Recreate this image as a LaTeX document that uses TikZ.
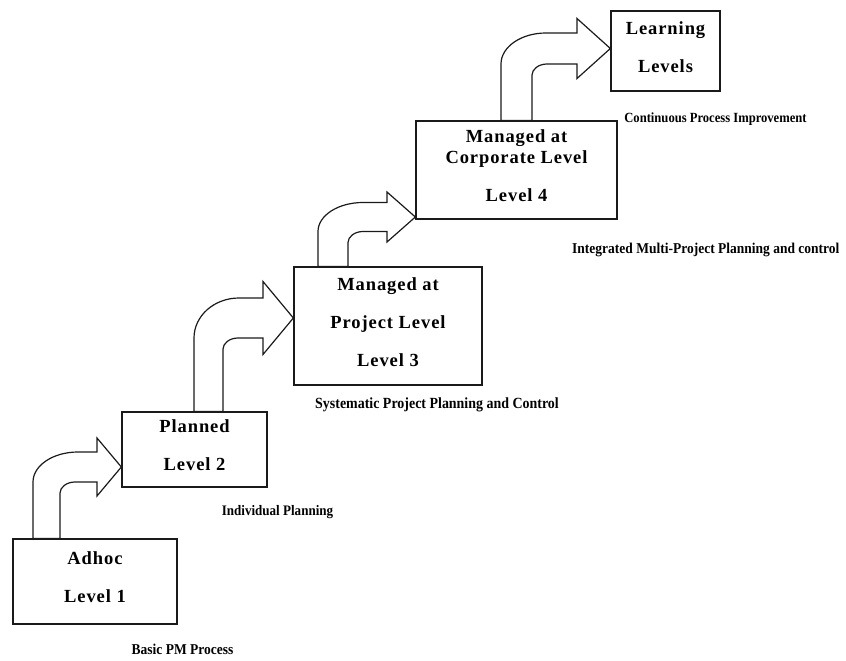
\documentclass[tikz,border=0pt]{standalone}
\usepackage{fontspec}
\setmainfont{Liberation Serif}
\newfontfamily\boxfont{Liberation Serif}[LetterSpace=5]
\newfontfamily\notefont{Liberation Serif}[FakeStretch=0.9]
\usetikzlibrary{calc}
\definecolor{ink}{HTML}{1A1A1A}

% bent block arrow: from, to, x outer, x inner, y mid, half shaft, half head, x head
\newcommand{\stepup}[8]{%
  \draw[blk] let \p1=(#1.north), \p2=(#2.west) in
    (#3,\y1) -- (#3,{#5+#6})
    .. controls (#3,{#5-0.1*#6}) and ({#3+20},{#5-#6}) .. ({#3+45},{#5-#6})
    -- (#8,{#5-#6}) -- (#8,{#5-#7}) -- (\x2,#5) -- (#8,{#5+#7}) -- (#8,{#5+#6})
    -- ({#4+15},{#5+#6}) .. controls ({#4+7},{#5+#6}) and (#4,{#5+#6+5}) .. (#4,{#5+#6+11})
    -- (#4,\y1) -- cycle;}

\begin{document}
\begin{tikzpicture}[
  x=1pt, y=-1pt,
  lvl/.style={draw=ink, line width=1.3pt, fill=white, align=center, inner sep=0pt,
              font=\boxfont\bfseries\fontsize{18.5}{38}\selectfont, text depth=8pt},
  note/.style={font=\notefont\bfseries\fontsize{#1}{16}\selectfont, inner sep=0pt},
  note/.default=14.5,
  blk/.style={draw=ink, line width=1.2pt, line join=miter}
]
\clip (0,0) rectangle (846,661);

\node[lvl, minimum width=164pt, minimum height=85pt]  (lv1) at (95,581.5)   {Adhoc\\Level 1};
\node[lvl, minimum width=145pt, minimum height=75pt]  (lv2) at (194.5,449.5) {Planned\\Level 2};
\node[lvl, minimum width=188pt, minimum height=118pt] (lv3) at (388,326)    {Managed at\\Project Level\\Level 3};
\node[lvl, minimum width=201pt, minimum height=98pt]  (lv4) at (516.5,170)  {Managed at\\[-17pt]Corporate Level\\Level 4};
\node[lvl, minimum width=109pt, minimum height=80pt]  (lv5) at (665.5,51)   {Learning\\Levels};

\stepup{lv1}{lv2}{33}{60}{467}{15}{29}{97}
\stepup{lv2}{lv3}{194}{223}{318}{20}{36.5}{263}
\stepup{lv3}{lv4}{318}{348}{217}{14.5}{25}{387}
\stepup{lv4}{lv5}{501}{532}{48.5}{15.5}{30}{577}

\node[note=15]   (n1) at (182.5,649) {Basic PM Process};
\node[note]      (n2) at (277.5,512) {Individual Planning};
\node[note=15.5] (n3) at (437,405)   {Systematic Project Planning and Control};
\node[note=15, anchor=west] (n4) at (572,250) {Integrated Multi-Project Planning and control};
\node[note=14]   (n5) at (715.5,119) {Continuous Process Improvement};
\end{tikzpicture}
\end{document}
